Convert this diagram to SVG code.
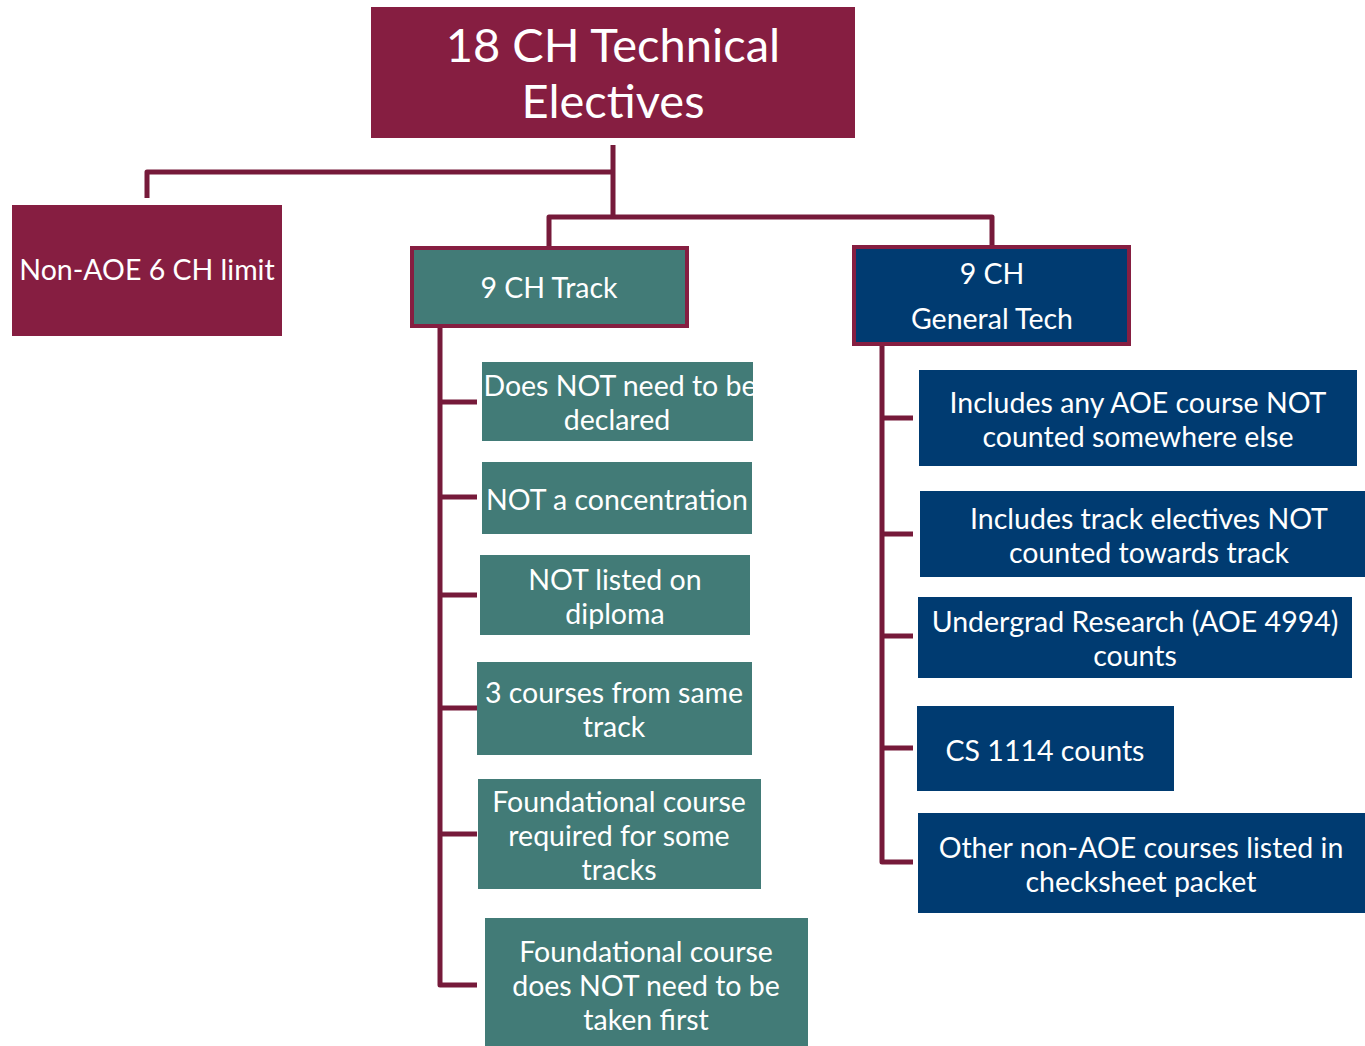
<svg xmlns="http://www.w3.org/2000/svg" width="1365" height="1046" viewBox="0 0 1365 1046">
<style>
.t{font-family:Lato,"Noto Sans","Liberation Sans",sans-serif;fill:#fff;text-anchor:middle;font-size:28.5px}
.big{font-size:47px}
.maroon{fill:#861E41}
.teal{fill:#427B77}
.navy{fill:#003B71}
.hdr{stroke:#861E41;stroke-width:4}
.c{fill:none;stroke:#761A3A;stroke-width:5;stroke-linejoin:round}
</style>
<rect width="1365" height="1046" fill="#fff"/>
<g id="connectors">
<path class="c" d="M613 145V217M147 198V172H613M549 247V217H992V245"/>
<path class="c" d="M440 328V985H477M440 402H477M440 497H477M440 595H477M440 708H477M440 834H477"/>
<path class="c" d="M882 346V862H913M882 418H913M882 534H913M882 636H913M882 748H913"/>
</g>
<g id="root"><rect class="maroon" x="371" y="7" width="484" height="131"/>
<text class="t big" x="613" y="62">18 CH Technical</text><text class="t big" x="613" y="118">Electives</text></g>
<g id="nonaoe"><rect class="maroon" x="12" y="205" width="270" height="131"/>
<text class="t" x="147" y="280">Non-AOE 6 CH limit</text></g>
<g id="track"><rect class="teal hdr" x="412" y="248" width="275" height="78"/>
<text class="t" x="549" y="298">9 CH Track</text></g>
<g id="gentech"><rect class="navy hdr" x="854" y="247" width="275" height="97"/>
<text class="t" x="992" y="284">9 CH</text><text class="t" x="992" y="329">General Tech</text></g>
<g id="t1"><rect class="teal" x="482" y="362" width="271" height="79"/>
<text class="t" x="620" y="396">Does NOT need to be</text><text class="t" x="617" y="430">declared</text></g>
<g id="t2"><rect class="teal" x="482" y="462" width="270" height="72"/>
<text class="t" x="617" y="510">NOT a concentration</text></g>
<g id="t3"><rect class="teal" x="480" y="555" width="270" height="80"/>
<text class="t" x="615" y="590">NOT listed on</text><text class="t" x="615" y="624">diploma</text></g>
<g id="t4"><rect class="teal" x="477" y="662" width="275" height="93"/>
<text class="t" x="614" y="703">3 courses from same</text><text class="t" x="614" y="737">track</text></g>
<g id="t5"><rect class="teal" x="478" y="779" width="283" height="110"/>
<text class="t" x="619" y="812">Foundational course</text><text class="t" x="619" y="846">required for some</text><text class="t" x="619" y="880">tracks</text></g>
<g id="t6"><rect class="teal" x="485" y="918" width="323" height="128"/>
<text class="t" x="646" y="962">Foundational course</text><text class="t" x="646" y="996">does NOT need to be</text><text class="t" x="646" y="1030">taken first</text></g>
<g id="g1"><rect class="navy" x="919" y="370" width="438" height="96"/>
<text class="t" x="1138" y="413">Includes any AOE course NOT</text><text class="t" x="1138" y="447">counted somewhere else</text></g>
<g id="g2"><rect class="navy" x="920" y="491" width="445" height="86"/>
<text class="t" x="1149" y="529">Includes track electives NOT</text><text class="t" x="1149" y="563">counted towards track</text></g>
<g id="g3"><rect class="navy" x="918" y="597" width="434" height="81"/>
<text class="t" x="1135" y="632">Undergrad Research (AOE 4994)</text><text class="t" x="1135" y="666">counts</text></g>
<g id="g4"><rect class="navy" x="917" y="706" width="257" height="85"/>
<text class="t" x="1045" y="761">CS 1114 counts</text></g>
<g id="g5"><rect class="navy" x="918" y="813" width="447" height="100"/>
<text class="t" x="1141" y="858">Other non-AOE courses listed in</text><text class="t" x="1141" y="892">checksheet packet</text></g>
</svg>
